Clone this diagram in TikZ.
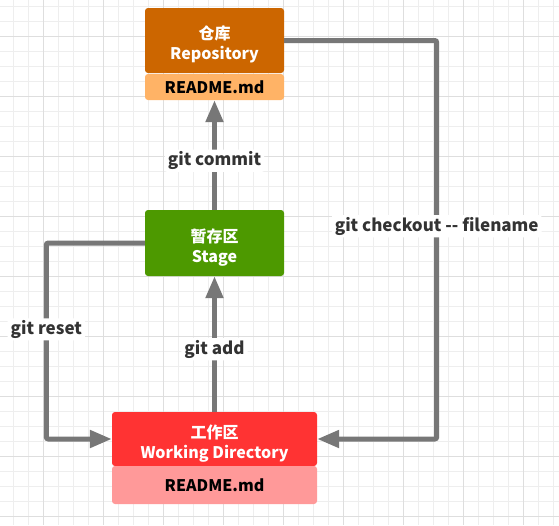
\documentclass[tikz,border=0pt]{standalone}
\usepackage{fontspec}
\setmainfont{Noto Sans CJK SC}
\usetikzlibrary{arrows.meta,positioning}

\definecolor{repodark}{HTML}{CC6600}
\definecolor{repolight}{HTML}{FFB366}
\definecolor{stagegreen}{HTML}{4D9900}
\definecolor{workred}{HTML}{FF3333}
\definecolor{worklight}{HTML}{FF9999}
\definecolor{flowgray}{HTML}{777777}
\definecolor{labelgray}{HTML}{333333}
\definecolor{gridminor}{HTML}{EEEEEE}
\definecolor{gridmajor}{HTML}{DEDEDE}

% two centred lines, set a little lower in the box
\newcommand\arealines[2]{\raisebox{-5pt}[\height][\depth]{\begin{tabular}{@{}c@{}}#1\\#2\end{tabular}}}

\begin{document}
\begin{tikzpicture}[
    x=1pt, y=-1pt,
    font=\bfseries\fontsize{16}{20}\selectfont,
    areabox/.style={rounded corners=3pt, align=center, text=white,
                    inner sep=0pt},
    filebox/.style={rounded corners=3pt, align=center, text=black,
                    inner sep=0pt},
    flow/.style={-{Triangle[length=22pt,width=17pt]}, line width=5pt,
                 draw=flowgray, rounded corners=2pt},
    cmd/.style={fill=white, text=labelgray, inner xsep=3pt, inner ysep=2pt,
                yshift=-2.5pt, font=\bfseries\fontsize{17}{20}\selectfont}
]

% background grid
\useasboundingbox (0,0) rectangle (559,525);
\fill[white] (0,0) rectangle (559,525);
\foreach \gx in {13.3,28.3,...,559} {
    \draw[gridminor, line width=1pt] (\gx,0) -- (\gx,525);
}
\foreach \gy in {6.7,21.7,...,525} {
    \draw[gridminor, line width=1pt] (0,\gy) -- (559,\gy);
}
\foreach \gx in {43.3,103.3,...,559} {
    \draw[gridmajor, line width=1pt] (\gx,0) -- (\gx,525);
}
\foreach \gy in {36.7,96.7,...,525} {
    \draw[gridmajor, line width=1pt] (0,\gy) -- (559,\gy);
}

% areas
\node[areabox, fill=repodark, minimum width=139pt, minimum height=65pt] (repo) at (214.5,40.5)
    {\arealines{仓库}{Repository}};
\node[filebox, fill=repolight, minimum width=139pt, minimum height=26pt] (repofile) at (214.5,87)
    {README.md};

\node[areabox, fill=stagegreen, minimum width=139pt, minimum height=66pt] (stage) at (214.5,243)
    {\arealines{暂存区}{Stage}};

\node[areabox, fill=workred, minimum width=205pt, minimum height=54pt] (work) at (214.5,439)
    {\arealines{工作区}{Working Directory}};
\node[filebox, fill=worklight, minimum width=205pt, minimum height=38pt] (workfile) at (214.5,485)
    {README.md};

% commands
\draw[flow] (stage.north) -- node[cmd, pos=0.47] {git commit} (repofile.south);
\draw[flow] (work.north) -- node[cmd, pos=0.48] {git add} (stage.south);

\draw[flow] (stage.west) -- ++(-98.5,0)
    |- node[cmd, pos=0.214] {git reset} (work.west);
\draw[flow] (repo.east) -- ++(152.5,0)
    |- node[cmd, pos=0.23] {git checkout -{}- filename} (work.east);

\end{tikzpicture}
\end{document}
